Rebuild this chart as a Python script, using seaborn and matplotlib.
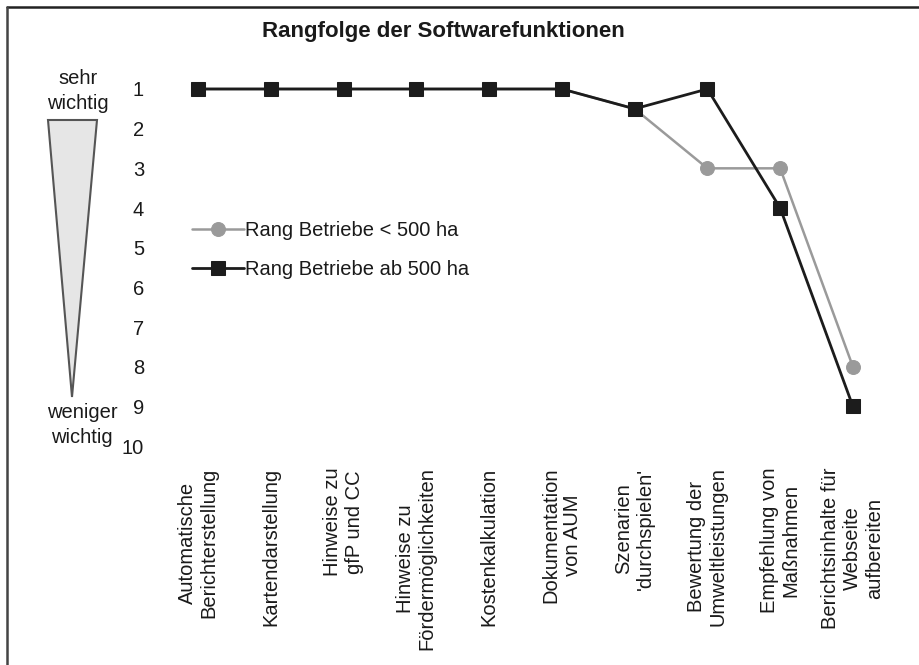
import matplotlib
matplotlib.use("Agg")
import matplotlib.pyplot as plt
import seaborn as sns
import pandas as pd
from matplotlib.patches import Polygon
from matplotlib.lines import Line2D

categories = [
    "Automatische\nBerichterstellung",
    "Kartendarstellung",
    "Hinweise zu\ngfP und CC",
    "Hinweise zu\nFördermöglichkeiten",
    "Kostenkalkulation",
    "Dokumentation\nvon AUM",
    "Szenarien\n'durchspielen'",
    "Bewertung der\nUmweltleistungen",
    "Empfehlung von\nMaßnahmen",
    "Berichtsinhalte für\nWebseite\naufbereiten",
]
rank_small = [1, 1, 1, 1, 1, 1, 1.5, 3, 3, 8]
rank_large = [1, 1, 1, 1, 1, 1, 1.5, 1, 4, 9]
label_small = "Rang Betriebe < 500 ha"
label_large = "Rang Betriebe ab 500 ha"
y_ticks = list(range(1, 11))

sns.set_theme(style="white")
plt.rcParams["font.family"] = ["Liberation Sans", "DejaVu Sans"]

W, H = 919, 665
fig = plt.figure(figsize=(W / 100, H / 100), dpi=100)
fig.patch.set_facecolor("white")

def fx(px):
    return px / W

def fy(py):
    return 1 - py / H

left, right, top, bottom = 169, 882, 60, 455
ax = fig.add_axes([fx(left), fy(bottom), fx(right - left), (bottom - top) / H])
ax.set_facecolor("white")

df_small = pd.DataFrame({"pos": range(len(categories)), "rank": rank_small})
df_large = pd.DataFrame({"pos": range(len(categories)), "rank": rank_large})

sns.lineplot(data=df_small, x="pos", y="rank", ax=ax, color="#9a9a9a",
             marker="o", markersize=10, markeredgecolor="#9a9a9a",
             linewidth=1.8, label=label_small)
sns.lineplot(data=df_large, x="pos", y="rank", ax=ax, color="#1c1c1c",
             marker="s", markersize=10.5, markeredgecolor="#1c1c1c",
             linewidth=2.0, label=label_large)

unit = (446 - 89) / 9.0
ax.set_xlim(-0.4, 9.4)
ax.set_ylim(10 + (bottom - 446) / unit, 1 - (89 - top) / unit)
ax.set_yticks(y_ticks)
ax.set_yticklabels([str(v) for v in y_ticks], fontsize=14.5, color="#1a1a1a")
ax.set_xticks(range(len(categories)))
ax.set_xticklabels(categories, fontsize=14.5, color="#1a1a1a")
plt.setp(ax.get_xticklabels(), rotation=90, ha="center", va="top",
         multialignment="center")
ax.tick_params(axis="y", length=0, pad=18)
ax.tick_params(axis="x", length=0, pad=9)
ax.set_xlabel("")
ax.set_ylabel("")
for s in ax.spines.values():
    s.set_visible(False)

leg = ax.legend(loc="center left", bbox_to_anchor=(fx(192), fy(250)),
                bbox_transform=fig.transFigure, frameon=False, fontsize=14.5,
                handlelength=2.6, handletextpad=0.05, labelspacing=0.95,
                borderpad=0, borderaxespad=0)
for t in leg.get_texts():
    t.set_color("#1a1a1a")

fig.text(fx(443), fy(32), "Rangfolge der Softwarefunktionen", ha="center",
         va="center", fontsize=16, fontweight="bold", color="#1a1a1a")

tri = Polygon([[fx(48), fy(120)], [fx(97), fy(120)], [fx(72), fy(397)]],
              closed=True, transform=fig.transFigure, facecolor="#e6e6e6",
              edgecolor="#555555", linewidth=1.5)
fig.patches.append(tri)

fig.text(fx(78), fy(91), "sehr\nwichtig", ha="center", va="center",
         fontsize=14.5, color="#1a1a1a", linespacing=1.45)
fig.text(fx(82), fy(425), "weniger\nwichtig", ha="center", va="center",
         fontsize=14.5, color="#1a1a1a", linespacing=1.45)

fig.lines.append(Line2D([fx(7), 1], [fy(7), fy(7)], transform=fig.transFigure,
                        color="#222222", linewidth=1.8))
fig.lines.append(Line2D([fx(7), fx(7)], [fy(7), 0], transform=fig.transFigure,
                        color="#444444", linewidth=1.8))

fig.savefig("out.png", dpi=100, facecolor="white")
